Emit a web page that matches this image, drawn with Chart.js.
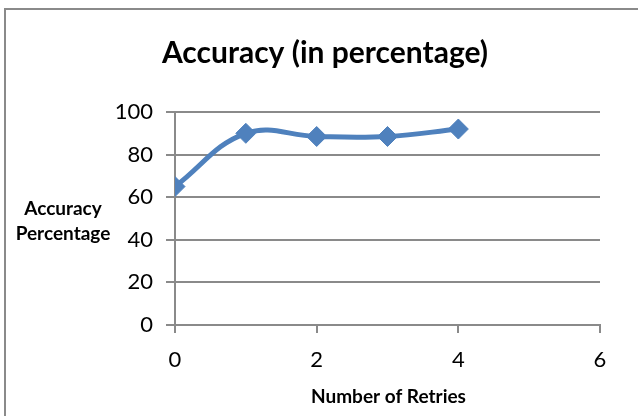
<!DOCTYPE html>
<html>
<head>
<meta charset="utf-8">
<script src="https://cdn.jsdelivr.net/npm/chart.js@4/dist/chart.umd.min.js"></script>
<style>
  html, body { margin: 0; padding: 0; background: #ffffff; }
  #wrap { width: 638px; height: 416px; position: relative; }
</style>
</head>
<body>
<div id="wrap"><canvas id="c" width="638" height="416"></canvas></div>
<script>
// ---- data ----
const retries = [0, 1, 2, 3, 4];
const accuracy = [65, 90, 88.5, 88.5, 92];
const xTicks = [0, 2, 4, 6];
const yTicks = [0, 20, 40, 60, 80, 100];
const chartTitle = "Accuracy (in percentage)";
const xTitle = "Number of Retries";
const yTitleLines = ["Accuracy", "Percentage"];

const FONT = "Lato, 'Open Sans', sans-serif";
const GRID = "#8a8a8a";
const BLUE = "#4F81BD";

const textPlugin = {
  id: 'excelText',
  beforeDraw(chart) {
    const ctx = chart.ctx;
    ctx.save();
    ctx.strokeStyle = GRID;
    ctx.lineWidth = 2;
    ctx.strokeRect(5, 9, 700, 500);
    ctx.restore();
  },
  afterDraw(chart) {
    const ctx = chart.ctx;
    const a = chart.chartArea;
    ctx.save();
    ctx.fillStyle = "#000";
    ctx.textAlign = "center";
    ctx.textBaseline = "alphabetic";
    ctx.font = "bold 30px " + FONT;
    ctx.fillText(chartTitle, 325, 63);
    ctx.font = "bold 19px " + FONT;
    ctx.fillText(yTitleLines[0], 63, 215);
    ctx.fillText(yTitleLines[1], 63, 240);
    ctx.fillText(xTitle, (a.left + a.right) / 2 + 1, 403);
    ctx.restore();
  }
};

new Chart(document.getElementById('c'), {
  type: 'line',
  data: {
    datasets: [{
      data: retries.map((x, i) => ({ x: x, y: accuracy[i] })),
      borderColor: BLUE,
      backgroundColor: BLUE,
      borderWidth: 5,
      tension: 0.4,
      pointStyle: 'rectRot',
      pointRadius: 10,
      pointBorderWidth: 1,
      pointBackgroundColor: BLUE,
      pointBorderColor: BLUE,
      fill: false
    }]
  },
  options: {
    responsive: false,
    animation: false,
    devicePixelRatio: 1,
    layout: { padding: { left: 0, right: 38, top: 112, bottom: 0 } },
    plugins: {
      legend: { display: false },
      title: { display: false },
      tooltip: { enabled: false }
    },
    scales: {
      x: {
        type: 'linear',
        min: 0, max: 6,
        afterFit(s) { s.height = 91; },
        afterBuildTicks(s) { s.ticks = xTicks.map(v => ({ value: v })); },
        grid: {
          drawOnChartArea: false,
          drawTicks: true,
          tickLength: 8,
          color: GRID,
          lineWidth: 2
        },
        border: { display: true, color: GRID, width: 2 },
        ticks: {
          color: '#000',
          font: { family: FONT, size: 22 },
          padding: 14,
          maxRotation: 0
        }
      },
      y: {
        min: 0, max: 100,
        afterFit(s) { s.width = 175; },
        afterBuildTicks(s) { s.ticks = yTicks.map(v => ({ value: v })); },
        grid: {
          drawOnChartArea: true,
          drawTicks: true,
          tickLength: 9,
          color: GRID,
          lineWidth: 2
        },
        border: { display: true, color: GRID, width: 2 },
        ticks: {
          color: '#000',
          font: { family: FONT, size: 22 },
          padding: 13
        }
      }
    }
  },
  plugins: [textPlugin]
});
</script>
</body>
</html>
